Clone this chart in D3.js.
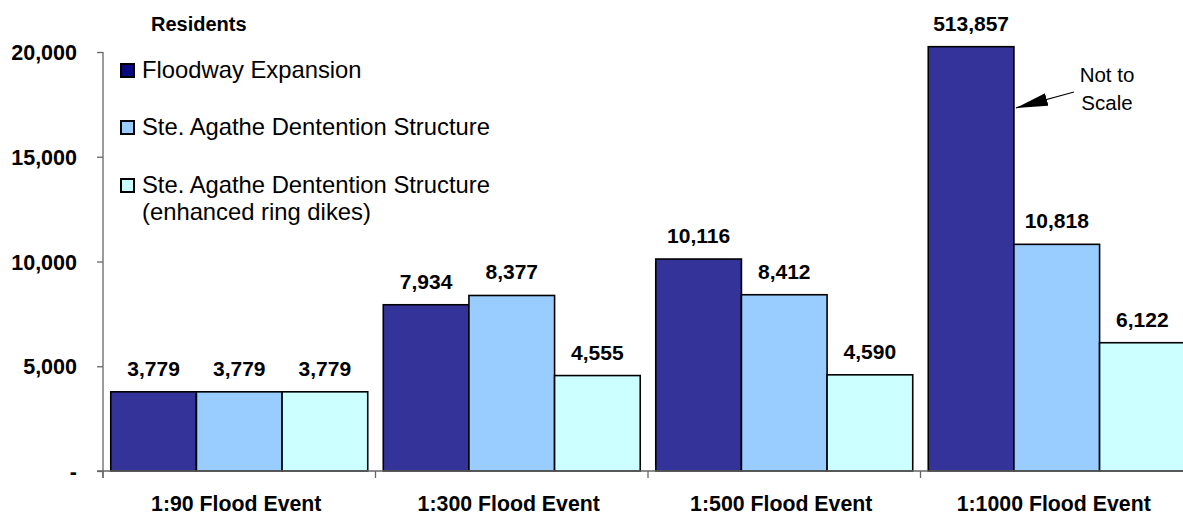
<!DOCTYPE html>
<html>
<head>
<meta charset="utf-8">
<script src="https://cdn.jsdelivr.net/npm/d3@7"></script>
<style>
  html, body { margin: 0; padding: 0; background: #fff; }
  svg { display: block; font-family: "Liberation Sans", Arial, sans-serif; }
</style>
</head>
<body>
<svg id="chart" width="1183" height="515"></svg>
<script>
// Flood events and residents affected under each scenario
const categories = ["1:90 Flood Event", "1:300 Flood Event", "1:500 Flood Event", "1:1000 Flood Event"];
const seriesNames = [
  "Floodway Expansion",
  "Ste. Agathe Dentention Structure",
  "Ste. Agathe Dentention Structure (enhanced ring dikes)"
];
const floodwayExpansion = [3779, 7934, 10116, 513857];
const steAgathe = [3779, 8377, 8412, 10818];
const steAgatheRingDikes = [3779, 4555, 4590, 6122];
const yTicks = [0, 5000, 10000, 15000, 20000];
const yTickLabels = ["-", "5,000", "10,000", "15,000", "20,000"];

const seriesValues = [floodwayExpansion, steAgathe, steAgatheRingDikes];
const colors = ["#333399", "#99CCFF", "#CCFFFF"];
const legendColors = ["#0a0a80", "#99CCFF", "#CCFFFF"];

const svg = d3.select("#chart");
const left = 103, zeroY = 471;

// Vertical scale; values past the top are clamped (bar drawn "not to scale")
const y = d3.scaleLinear().domain([0, 20000]).range([zeroY, 52]);
const yBar = d3.scaleLinear().domain([0, 20250]).range([zeroY, 46.7]).clamp(true);

const x0 = d3.scaleBand().domain(categories).range([left, left + 4 * 272.5])
  .paddingInner(0.057).paddingOuter(0.0285);
const x1 = d3.scaleBand().domain(d3.range(3)).range([0, x0.bandwidth()]);

const rows = categories.map((c, i) => ({
  cat: c,
  vals: seriesValues.map((s, k) => ({ k, v: s[i] }))
}));

// Bars
const groups = svg.append("g").selectAll("g").data(rows).join("g")
  .attr("transform", d => `translate(${x0(d.cat)},0)`);
groups.selectAll("rect").data(d => d.vals).join("rect")
  .attr("x", d => x1(d.k))
  .attr("y", d => yBar(d.v))
  .attr("width", x1.bandwidth())
  .attr("height", d => zeroY - yBar(d.v))
  .attr("fill", d => colors[d.k])
  .attr("stroke", "#000")
  .attr("stroke-width", 1.6);

// Value labels
groups.selectAll("text").data(d => d.vals).join("text")
  .attr("x", d => x1(d.k) + x1.bandwidth() / 2)
  .attr("y", d => yBar(d.v) - 16)
  .attr("text-anchor", "middle")
  .attr("font-size", 21)
  .attr("font-weight", "bold")
  .attr("fill", "#000")
  .text(d => d3.format(",")(d.v));

// Y axis
const yAxis = d3.axisLeft(y).tickValues(yTicks).tickSize(6)
  .tickFormat((d, i) => yTickLabels[i]);
const gy = svg.append("g").attr("transform", `translate(${left},0)`).call(yAxis);
gy.select(".domain").attr("d", `M0,${y(20000)}V${zeroY + 7}`).attr("stroke", "#666").attr("stroke-width", 1.3);
gy.selectAll(".tick line").attr("stroke", "#666").attr("stroke-width", 1.3);
gy.selectAll(".tick text")
  .attr("x", -26)
  .attr("dy", "0.35em")
  .attr("font-family", "Liberation Sans, Arial, sans-serif")
  .attr("font-size", 21.5).attr("font-weight", "bold").attr("fill", "#000");

// X axis baseline and category separators
const gx = svg.append("g");
gx.append("line").attr("x1", left - 6).attr("x2", 1183)
  .attr("y1", zeroY).attr("y2", zeroY).attr("stroke", "#666").attr("stroke-width", 1.3);
gx.selectAll("line.sep").data(categories).join("line").attr("class", "sep")
  .attr("x1", d => x0(d) - x0.step() * x0.paddingInner() / 2)
  .attr("x2", d => x0(d) - x0.step() * x0.paddingInner() / 2)
  .attr("y1", zeroY).attr("y2", zeroY + 7)
  .attr("stroke", "#666").attr("stroke-width", 1.3);
gx.selectAll("text").data(categories).join("text")
  .attr("x", d => x0(d) + x0.bandwidth() / 2 - 3)
  .attr("y", 511)
  .attr("text-anchor", "middle")
  .attr("font-size", 21.3).attr("font-weight", "bold")
  .text(d => d);

// Axis title
svg.append("text").attr("x", 151).attr("y", 31)
  .attr("font-size", 20).attr("font-weight", "bold").text("Residents");

// Legend
const legendBase = [78, 135, 193];
const legend = svg.append("g");
seriesNames.forEach((name, i) => {
  legend.append("rect").attr("x", 121).attr("y", legendBase[i] - 14)
    .attr("width", 13).attr("height", 13)
    .attr("fill", legendColors[i]).attr("stroke", "#000").attr("stroke-width", 2);
  const t = legend.append("text").attr("x", 142).attr("y", legendBase[i])
    .attr("font-size", 23.8).attr("fill", "#000");
  if (i === 2) {
    t.append("tspan").attr("x", 142).text("Ste. Agathe Dentention Structure");
    t.append("tspan").attr("x", 142).attr("dy", 27).text("(enhanced ring dikes)");
  } else {
    t.text(name);
  }
});

// "Not to Scale" callout with arrow
const last = categories[3];
const tipX = x0(last) + x1(0) + x1.bandwidth() + 2, tipY = 108;
svg.append("defs").append("marker").attr("id", "arrow")
  .attr("viewBox", "0 0 10 10").attr("refX", 10).attr("refY", 5)
  .attr("markerWidth", 32).attr("markerHeight", 13).attr("markerUnits", "userSpaceOnUse")
  .attr("preserveAspectRatio", "none")
  .attr("orient", "auto")
  .append("path").attr("d", "M0,0L10,5L0,10Z").attr("fill", "#000");
svg.append("line").attr("x1", 1074).attr("y1", 92).attr("x2", tipX).attr("y2", tipY)
  .attr("stroke", "#000").attr("stroke-width", 1.2).attr("marker-end", "url(#arrow)");
svg.append("text").attr("x", 1107).attr("y", 82).attr("text-anchor", "middle")
  .attr("font-size", 20.5).text("Not to");
svg.append("text").attr("x", 1107).attr("y", 110).attr("text-anchor", "middle")
  .attr("font-size", 20.5).text("Scale");
</script>
</body>
</html>
